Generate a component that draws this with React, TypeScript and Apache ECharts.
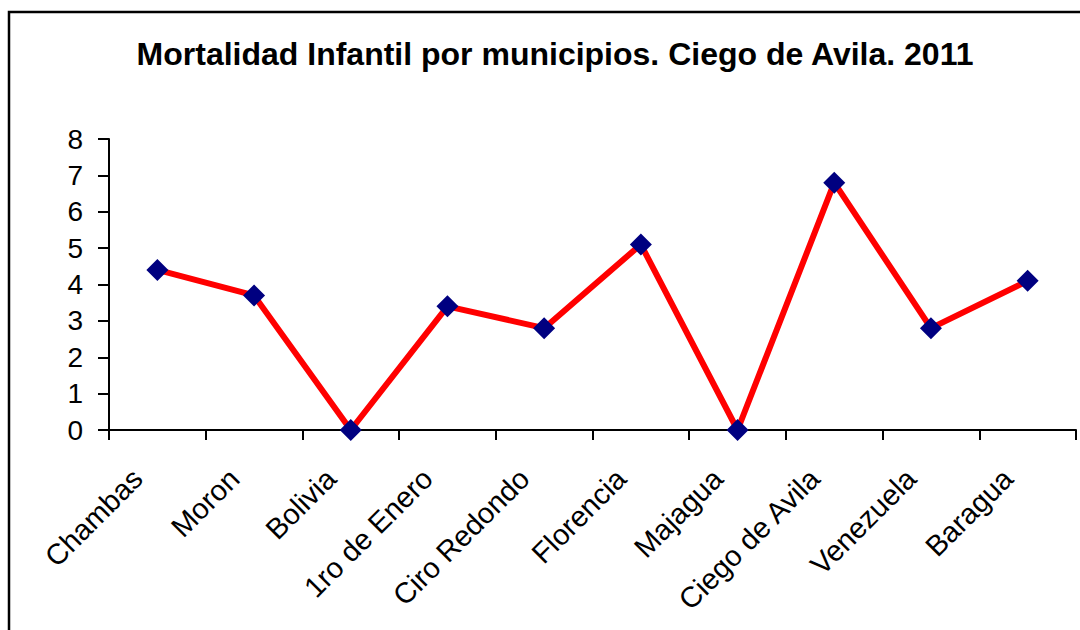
import React, { useEffect, useRef } from "react";
import * as echarts from "echarts";

const categories = ["Chambas", "Moron", "Bolivia", "1ro de Enero", "Ciro Redondo", "Florencia", "Majagua", "Ciego de Avila", "Venezuela", "Baragua"];
const values = [4.4, 3.7, 0, 3.4, 2.8, 5.1, 0, 6.8, 2.8, 4.1];
const titleText = "Mortalidad Infantil por municipios. Ciego de Avila. 2011";

export default function App() {
  const ref = useRef<HTMLDivElement>(null);
  useEffect(() => {
    if (!ref.current) return;
    const chart = echarts.init(ref.current, null, { renderer: "svg" });
    chart.setOption({
      animation: false,
      backgroundColor: "#ffffff",
      title: {
        text: titleText,
        left: 550,
        textAlign: "center",
        top: 33,
        textStyle: { fontFamily: "Liberation Sans, Arial", fontWeight: "bold", fontSize: 32, color: "#000" },
      },
      graphic: [
        {
          type: "rect",
          shape: { x: 9, y: 12, width: 1200, height: 800 },
          style: { fill: "none", stroke: "#000", lineWidth: 2.5 },
          silent: true,
        },
      ],
      grid: { left: 109, right: 4, top: 139, bottom: 200, containLabel: false },
      xAxis: {
        type: "category",
        data: categories,
        boundaryGap: true,
        axisLine: { lineStyle: { color: "#000", width: 2 } },
        axisTick: { show: true, length: 10, alignWithLabel: false, lineStyle: { color: "#000", width: 2 } },
        axisLabel: {
          rotate: 45,
          interval: 0,
          margin: 24,
          padding: [0, 28, 0, 0],
          color: "#000",
          fontSize: 29,
          fontFamily: "Liberation Sans, Arial",
        },
        splitLine: { show: false },
      },
      yAxis: {
        type: "value",
        min: 0,
        max: 8,
        interval: 1,
        axisLine: { show: true, lineStyle: { color: "#000", width: 2 } },
        axisTick: { show: true, length: 11, lineStyle: { color: "#000", width: 2 } },
        axisLabel: { margin: 26, color: "#000", fontSize: 28, fontFamily: "Liberation Sans, Arial" },
        splitLine: { show: false },
      },
      series: [
        {
          type: "line",
          data: values,
          symbol: "diamond",
          symbolSize: 22,
          itemStyle: { color: "#000080" },
          lineStyle: { color: "#ff0000", width: 6 },
        },
      ],
    });
    return () => chart.dispose();
  }, []);
  return <div ref={ref} style={{ position: "fixed", left: 0, top: 0, width: 1080, height: 630 }} />;
}
